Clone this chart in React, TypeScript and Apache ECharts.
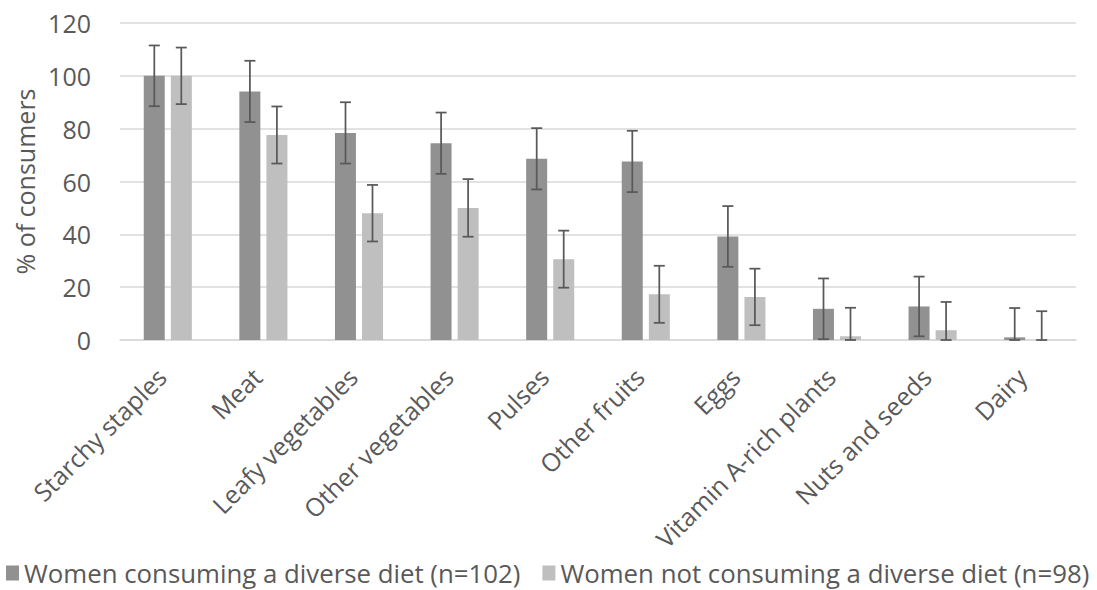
import React, { useEffect, useRef } from "react";
import * as echarts from "echarts";

// Food groups eaten, by diet-diversity status
const categories = [
  "Starchy staples",
  "Meat",
  "Leafy vegetables",
  "Other vegetables",
  "Pulses",
  "Other fruits",
  "Eggs",
  "Vitamin A-rich plants",
  "Nuts and seeds",
  "Dairy",
];

const diverseName = "Women consuming a diverse diet (n=102)";
const notDiverseName = "Women not consuming a diverse diet (n=98)";

// % of consumers
const diverseValues = [100, 94.1, 78.4, 74.5, 68.6, 67.6, 39.2, 11.8, 12.7, 1.0];
const notDiverseValues = [100, 77.6, 48.0, 50.0, 30.6, 17.3, 16.3, 1.4, 3.7, 0];

// Error bar half-widths
const diverseErrors = [11.5, 11.6, 11.6, 11.6, 11.6, 11.6, 11.5, 11.5, 11.3, 11.1];
const notDiverseErrors = [10.7, 10.8, 10.7, 10.9, 10.8, 10.8, 10.7, 10.8, 10.7, 10.9];

const yTicks = { min: 0, max: 120, interval: 20 };

const DARK = "#919191";
const LIGHT = "#BFBFBF";
const ERR = "#595959";
const TEXT = "#595959";
const GRID = "#D9D9D9";
const FONT = "'Open Sans', sans-serif";

const BAR_W = 21;
const BAR_GAP = 6;

function errorSeries(values: number[], errors: number[], offset: number) {
  const data = values.map((v, i) => [i, Math.max(0, v - errors[i]), v + errors[i]]);
  return {
    type: "custom",
    z: 5,
    silent: true,
    data,
    renderItem: (params: any, api: any) => {
      const idx = api.value(0);
      const lowPt = api.coord([idx, api.value(1)]);
      const highPt = api.coord([idx, api.value(2)]);
      const x = lowPt[0] + offset;
      const cap = 5.5;
      const style = { stroke: ERR, lineWidth: 1.75 };
      return {
        type: "group",
        children: [
          { type: "line", shape: { x1: x, y1: lowPt[1], x2: x, y2: highPt[1] }, style },
          { type: "line", shape: { x1: x - cap, y1: highPt[1], x2: x + cap, y2: highPt[1] }, style },
          { type: "line", shape: { x1: x - cap, y1: lowPt[1], x2: x + cap, y2: lowPt[1] }, style },
        ],
      };
    },
  };
}

export default function App() {
  const ref = useRef<HTMLDivElement>(null);

  useEffect(() => {
    document.body.style.margin = "0";
    if (!ref.current) return;
    const chart = echarts.init(ref.current, null, { renderer: "svg" });
    const half = (BAR_W + BAR_GAP) / 2;

    chart.setOption({
      animation: false,
      backgroundColor: "#ffffff",
      textStyle: { fontFamily: FONT, color: TEXT },
      grid: { left: 120, right: 21, top: 23, bottom: 250, containLabel: false },
      legend: {
        left: 1,
        top: 555,
        itemWidth: 13,
        itemHeight: 15,
        itemGap: 22,
        icon: "rect",
        textStyle: { fontFamily: FONT, fontSize: 25.8, color: TEXT },
        data: [diverseName, notDiverseName],
      },
      xAxis: {
        type: "category",
        data: categories,
        axisLine: { lineStyle: { color: GRID, width: 1.5 } },
        axisTick: { show: false },
        axisLabel: {
          rotate: 45,
          interval: 0,
          margin: 26,
          padding: [0, 9, 0, 0],
          fontFamily: FONT,
          fontSize: 25,
          color: TEXT,
        },
      },
      yAxis: {
        type: "value",
        min: yTicks.min,
        max: yTicks.max,
        interval: yTicks.interval,
        name: "% of consumers",
        nameLocation: "middle",
        nameGap: 82,
        nameTextStyle: { fontFamily: FONT, fontSize: 25, color: TEXT },
        axisLine: { show: false },
        axisTick: { show: false },
        axisLabel: { margin: 29, fontFamily: FONT, fontSize: 25, color: TEXT },
        splitLine: { lineStyle: { color: GRID, width: 1.5 } },
      },
      series: [
        {
          name: diverseName,
          type: "bar",
          data: diverseValues,
          barWidth: BAR_W,
          barGap: `${Math.round((BAR_GAP / BAR_W) * 100)}%`,
          itemStyle: { color: DARK },
        },
        {
          name: notDiverseName,
          type: "bar",
          data: notDiverseValues,
          barWidth: BAR_W,
          itemStyle: { color: LIGHT },
        },
        errorSeries(diverseValues, diverseErrors, -half),
        errorSeries(notDiverseValues, notDiverseErrors, half),
      ],
    });

    return () => chart.dispose();
  }, []);

  return <div ref={ref} style={{ width: 1097, height: 590 }} />;
}
